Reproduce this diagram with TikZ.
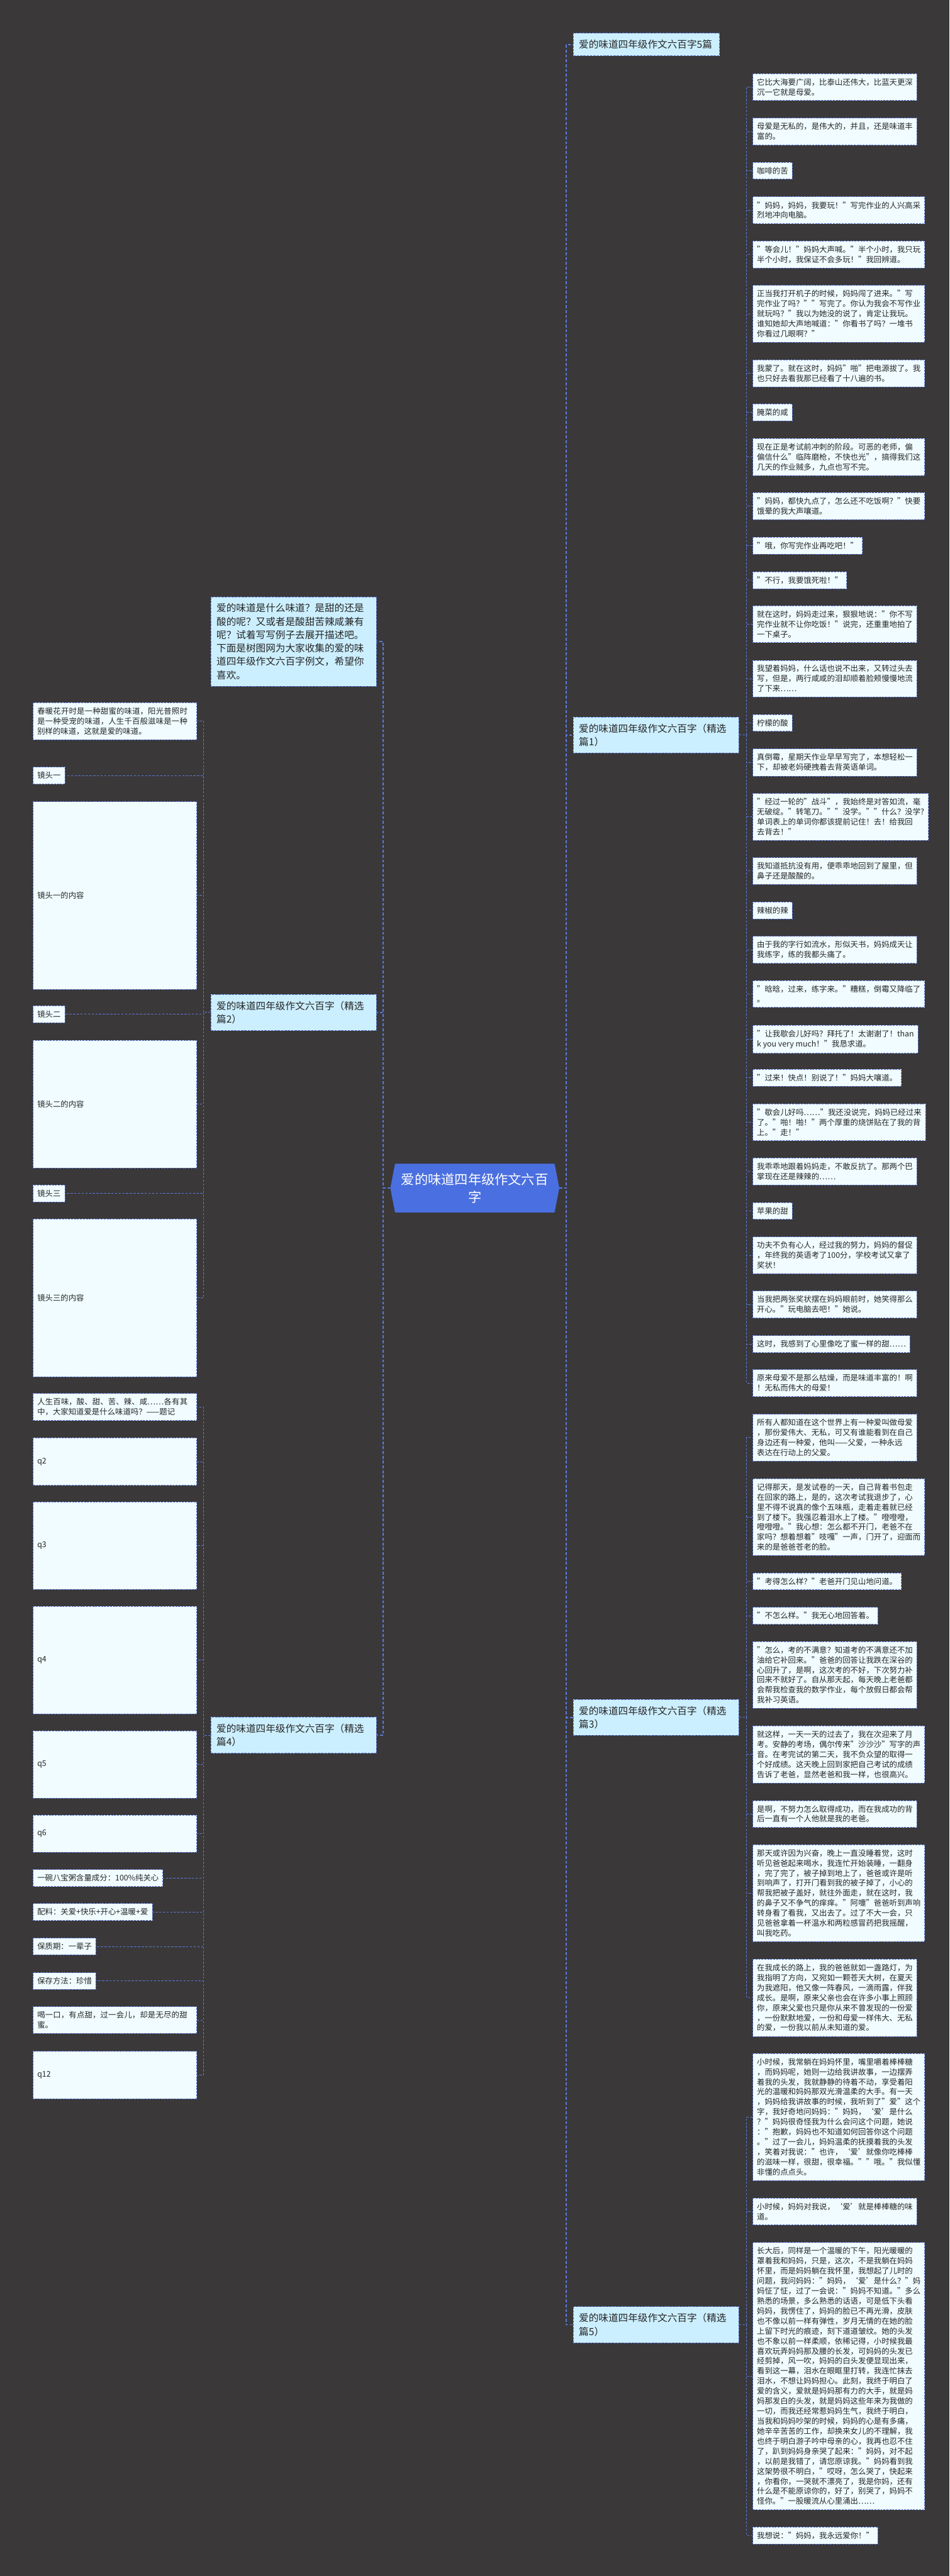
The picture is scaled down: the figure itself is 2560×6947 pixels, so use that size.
\documentclass[tikz,border=0pt]{standalone}
\usepackage{fontspec}
\setmainfont{Noto Sans CJK SC}
\usetikzlibrary{shapes.symbols}
\XeTeXlinebreaklocale "zh"
\XeTeXlinebreakskip = 0pt plus 1pt
\definecolor{bgdark}{HTML}{3A3839}
\definecolor{linkblue}{HTML}{5B79D9}
\definecolor{rootblue}{HTML}{4A6FE0}
\definecolor{branchfill}{HTML}{CCEFFF}
\definecolor{leaffill}{HTML}{F0FCFF}
\definecolor{inkdark}{HTML}{262626}
\tikzset{
  link/.style={draw=linkblue, line width=1.5pt, dash pattern=on 6pt off 4pt},
  trunk/.style={draw=linkblue, line width=3pt, dash pattern=on 8pt off 5pt},
  rootnode/.style={shape=signal, signal to=west and east, signal pointer angle=158,
    fill=rootblue, text=white, align=center, inner xsep=17pt, inner ysep=25pt,
    font=\fontsize{36}{48}\selectfont},
  branch/.style={draw=linkblue, line width=1.5pt, dash pattern=on 6pt off 3pt,
    fill=branchfill, text=inkdark, anchor=north west, align=left, text width=416pt,
    inner xsep=15pt, inner ysep=18pt, font=\fontsize{26.5}{36}\selectfont},
  leaf/.style={draw=linkblue, line width=1.2pt, dash pattern=on 5pt off 3pt,
    fill=leaffill, text=inkdark, anchor=north west, align=left,
    inner xsep=11pt, inner ysep=13pt, font=\fontsize{21}{27}\selectfont},
  leafwrap/.style={leaf, text width=419pt}
}
\begin{document}
\begin{tikzpicture}[x=1pt, y=-1pt]
  \fill[bgdark] (0,0) rectangle (2560,6947);
  \node (root) [rootnode] at (1280,3204) {爱的味道四年级作文六百\\字};

  % right side
  \node (b0) [branch, text width=364pt] at (1545,89) {爱的味道四年级作文六百字5篇};
  \node (b1) [branch] at (1545,1933) {爱的味道四年级作文六百字（精选\\篇1）};
  \node (b3) [branch] at (1545,4582) {爱的味道四年级作文六百字（精选\\篇3）};
  \node (b5) [branch] at (1545,6220) {爱的味道四年级作文六百字（精选\\篇5）};

  \node (l1) [leaf] at (2029,198) {它比大海要广阔，比泰山还伟大，比蓝天更深\\沉一它就是母爱。};
  \node (l2) [leaf] at (2029,318) {母爱是无私的，是伟大的，并且，还是味道丰\\富的。};
  \node (l3) [leaf] at (2029,437) {咖啡的苦};
  \node (l4) [leaf] at (2029,530) {"妈妈，妈妈，我要玩！"写完作业的人兴高采\\烈地冲向电脑。};
  \node (l5) [leaf] at (2029,649) {"等会儿！"妈妈大声喊。"半个小时，我只玩\\半个小时，我保证不会多玩！"我回辨道。};
  \node (l6) [leaf] at (2029,769) {正当我打开机子的时候，妈妈闯了进来。"写\\完作业了吗？""写完了。你认为我会不写作业\\就玩吗？"我以为她没的说了，肯定让我玩。\\谁知她却大声地喊道："你看书了吗？一堆书\\你看过几眼啊？"};
  \node (l7) [leaf] at (2029,970) {我蒙了。就在这时，妈妈"啪"把电源拔了。我\\也只好去看我那已经看了十八遍的书。};
  \node (l8) [leaf] at (2029,1089) {腌菜的咸};
  \node (l9) [leaf] at (2029,1182) {现在正是考试前冲刺的阶段。可恶的老师，偏\\偏信什么"临阵磨枪，不快也光"，搞得我们这\\几天的作业贼多，九点也写不完。};
  \node (l10) [leaf] at (2029,1328) {"妈妈，都快九点了，怎么还不吃饭啊？"快要\\饿晕的我大声嚷道。};
  \node (l11) [leaf] at (2029,1448) {"哦，你写完作业再吃吧！"};
  \node (l12) [leaf] at (2029,1541) {"不行，我要饿死啦！"};
  \node (l13) [leaf] at (2029,1633) {就在这时，妈妈走过来，狠狠地说："你不写\\完作业就不让你吃饭！"说完，还重重地拍了\\一下桌子。};
  \node (l14) [leaf] at (2029,1780) {我望着妈妈，什么话也说不出来，又转过头去\\写，但是，两行咸咸的泪却顺着脸颊慢慢地流\\了下来……};
  \node (l15) [leaf] at (2029,1926) {柠檬的酸};
  \node (l16) [leaf] at (2029,2019) {真倒霉，星期天作业早早写完了，本想轻松一\\下，却被老妈硬拽着去背英语单词。};
  \node (l17) [leaf] at (2029,2139) {"经过一轮的"战斗"，我始终是对答如流，毫\\无破绽。"转笔刀。""没学。""什么？没学?\\单词表上的单词你都该提前记住！去！给我回\\去背去！"};
  \node (l18) [leaf] at (2029,2312) {我知道抵抗没有用，便乖乖地回到了屋里，但\\鼻子还是酸酸的。};
  \node (l19) [leaf] at (2029,2432) {辣椒的辣};
  \node (l20) [leaf] at (2029,2524) {由于我的字行如流水，形似天书，妈妈成天让\\我练字，练的我都头痛了。};
  \node (l21) [leaf] at (2029,2644) {"晗晗，过来，练字来。"糟糕，倒霉又降临了\\。};
  \node (l22) [leaf] at (2029,2764) {"让我歇会儿好吗？拜托了！太谢谢了！than\\k you very much！"我恳求道。};
  \node (l23) [leaf] at (2029,2883) {"过来！快点！别说了！"妈妈大嚷道。};
  \node (l24) [leaf] at (2029,2976) {"歇会儿好吗……"我还没说完，妈妈已经过来\\了。"啪！啪！"两个厚重的烧饼贴在了我的背\\上。"走！"};
  \node (l25) [leaf] at (2029,3122) {我乖乖地跟着妈妈走，不敢反抗了。那两个巴\\掌现在还是辣辣的……};
  \node (l26) [leaf] at (2029,3242) {苹果的甜};
  \node (l27) [leaf] at (2029,3335) {功夫不负有心人，经过我的努力，妈妈的督促\\，年终我的英语考了100分，学校考试又拿了\\奖状！};
  \node (l28) [leaf] at (2029,3481) {当我把两张奖状摆在妈妈眼前时，她笑得那么\\开心。"玩电脑去吧！"她说。};
  \node (l29) [leaf] at (2029,3601) {这时，我感到了心里像吃了蜜一样的甜……};
  \node (l30) [leaf] at (2029,3693) {原来母爱不是那么枯燥，而是味道丰富的！啊\\！无私而伟大的母爱！};

  \node (m1) [leaf] at (2029,3813) {所有人都知道在这个世界上有一种爱叫做母爱\\，那份爱伟大、无私，可又有谁能看到在自己\\身边还有一种爱，他叫——父爱，一种永远\\表达在行动上的父爱。};
  \node (m2) [leaf] at (2029,3987) {记得那天，是发试卷的一天，自己背着书包走\\在回家的路上，是的，这次考试我退步了，心\\里不得不说真的像个五味瓶，走着走着就已经\\到了楼下。我强忍着泪水上了楼。"噔噔噔，\\噔噔噔。"我心想：怎么都不开门，老爸不在\\家吗？想着想着"吱嘎"一声，门开了，迎面而\\来的是爸爸苍老的脸。};
  \node (m3) [leaf] at (2029,4241) {"考得怎么样？"老爸开门见山地问道。};
  \node (m4) [leaf] at (2029,4334) {"不怎么样。"我无心地回答着。};
  \node (m5) [leaf] at (2029,4426) {"怎么，考的不满意？知道考的不满意还不加\\油给它补回来。"爸爸的回答让我跌在深谷的\\心回升了，是啊，这次考的不好，下次努力补\\回来不就好了。自从那天起，每天晚上老爸都\\会帮我检查我的数学作业，每个放假日都会帮\\我补习英语。};
  \node (m6) [leaf] at (2029,4654) {就这样，一天一天的过去了，我在次迎来了月\\考。安静的考场，偶尔传来"沙沙沙"写字的声\\音。在考完试的第二天，我不负众望的取得一\\个好成绩。这天晚上回到家把自己考试的成绩\\告诉了老爸，显然老爸和我一样，也很高兴。};
  \node (m7) [leaf] at (2029,4855) {是啊，不努力怎么取得成功，而在我成功的背\\后一直有一个人他就是我的老爸。};
  \node (m8) [leaf] at (2029,4974) {那天或许因为兴奋，晚上一直没睡着觉，这时\\听见爸爸起来喝水，我连忙开始装睡，一翻身\\，完了完了，被子掉到地上了，爸爸或许是听\\到响声了，打开门看到我的被子掉了，小心的\\帮我把被子盖好，就往外面走，就在这时，我\\的鼻子又不争气的痒痒。"阿嚏"爸爸听到声响\\转身看了看我，又出去了。过了不大一会，只\\见爸爸拿着一杯温水和两粒感冒药把我摇醒，\\叫我吃药。};
  \node (m9) [leaf] at (2029,5283) {在我成长的路上，我的爸爸就如一盏路灯，为\\我指明了方向，又宛如一颗苍天大树，在夏天\\为我遮阳，他又像一阵春风，一滴雨露，伴我\\成长。是啊，原来父亲也会在许多小事上照顾\\你，原来父爱也只是你从来不曾发现的一份爱\\，一份默默地爱，一份和母爱一样伟大、无私\\的爱，一份我以前从未知道的爱。};

  \node (n1) [leaf] at (2029,5537) {小时候，我常躺在妈妈怀里，嘴里嚼着棒棒糖\\，而妈妈呢，她则一边给我讲故事，一边摆弄\\着我的头发，我就静静的待着不动，享受着阳\\光的温暖和妈妈那双光滑温柔的大手。有一天\\，妈妈给我讲故事的时候，我听到了"爱"这个\\字，我好奇地问妈妈："妈妈，‘爱’是什么\\？"妈妈很奇怪我为什么会问这个问题，她说\\："抱歉，妈妈也不知道如何回答你这个问题\\。"过了一会儿，妈妈温柔的抚摸着我的头发\\，笑着对我说："也许，‘爱’就像你吃棒棒\\的滋味一样，很甜，很幸福。""哦。"我似懂\\非懂的点点头。};
  \node (n2) [leaf] at (2029,5927) {小时候，妈妈对我说，‘爱’就是棒棒糖的味\\道。};
  \node (n3) [leaf] at (2029,6047) {长大后，同样是一个温暖的下午，阳光暖暖的\\罩着我和妈妈，只是，这次，不是我躺在妈妈\\怀里，而是妈妈躺在我怀里，我想起了儿时的\\问题，我问妈妈："妈妈，‘爱’是什么？"妈\\妈怔了怔，过了一会说："妈妈不知道。"多么\\熟悉的场景，多么熟悉的话语，可是低下头看\\妈妈，我愣住了，妈妈的脸已不再光滑，皮肤\\也不像以前一样有弹性，岁月无情的在她的脸\\上留下时光的痕迹，刻下道道皱纹。她的头发\\也不象以前一样柔顺，依稀记得，小时候我最\\喜欢玩弄妈妈那及腰的长发，可妈妈的头发已\\经剪掉，风一吹，妈妈的白头发便显现出来，\\看到这一幕，泪水在眼眶里打转，我连忙抹去\\泪水，不想让妈妈担心。此刻，我终于明白了\\爱的含义，爱就是妈妈那有力的大手，就是妈\\妈那发白的头发，就是妈妈这些年来为我做的\\一切，而我还经常惹妈妈生气，我终于明白，\\当我和妈妈吵架的时候，妈妈的心是有多痛，\\她辛辛苦苦的工作，却换来女儿的不理解，我\\也终于明白游子吟中母亲的心，我再也忍不住\\了，趴到妈妈身亲哭了起来："妈妈，对不起\\，以前是我错了，请您原谅我。"妈妈看到我\\这架势很不明白，"哎呀，怎么哭了，快起来\\，你看你，一哭就不漂亮了，我是你妈，还有\\什么是不能原谅你的，好了，别哭了，妈妈不\\怪你。"一股暖流从心里涌出……};
  \node (n4) [leaf] at (2029,6814) {我想说："妈妈，我永远爱你！"};

  % left side
  \node (intro) [branch] at (568,1609) {爱的味道是什么味道？是甜的还是\\酸的呢？又或者是酸甜苦辣咸兼有\\呢？试着写写例子去展开描述吧。\\下面是树图网为大家收集的爱的味\\道四年级作文六百字例文，希望你\\喜欢。};
  \node (b2) [branch] at (568,2681) {爱的味道四年级作文六百字（精选\\篇2）};
  \node (b4) [branch] at (568,4630) {爱的味道四年级作文六百字（精选\\篇4）};

  \node (p1) [leafwrap] at (89,1894) {春暖花开时是一种甜蜜的味道，阳光普照时是一种受宠的味道，人生千百般滋味是一种别样的味道，这就是爱的味道。};
  \node (p2) [leaf] at (89,2068) {镜头一};
  \node (p3) [leafwrap, minimum height=506pt] at (89,2161) {镜头一的内容};
  \node (p4) [leaf] at (89,2712) {镜头二};
  \node (p5) [leafwrap, minimum height=344pt] at (89,2805) {镜头二的内容};
  \node (p6) [leaf] at (89,3195) {镜头三};
  \node (p7) [leafwrap, minimum height=425pt] at (89,3287) {镜头三的内容};

  \node (q1) [leafwrap] at (89,3757) {人生百味，酸、甜、苦、辣、咸……各有其中，大家知道爱是什么味道吗？——题记};
  \node (q2) [leafwrap, minimum height=128pt] at (89,3877) {q2};
  \node (q3) [leafwrap, minimum height=236pt] at (89,4050) {q3};
  \node (q4) [leafwrap, minimum height=290pt] at (89,4331) {q4};
  \node (q5) [leafwrap, minimum height=182pt] at (89,4667) {q5};
  \node (q6) [leafwrap, minimum height=101pt] at (89,4894) {q6};
  \node (q7) [leaf] at (89,5041) {一碗八宝粥含量成分：100\%纯关心};
  \node (q8) [leaf] at (89,5133) {配料：关爱+快乐+开心+温暖+爱};
  \node (q9) [leaf] at (89,5226) {保质期：一辈子};
  \node (q10) [leaf] at (89,5319) {保存方法：珍惜};
  \node (q11) [leafwrap] at (89,5411) {喝一口，有点甜，过一会儿，却是无尽的甜蜜。};
  \node (q12) [leafwrap, minimum height=128pt] at (89,5531) {q12};

  % connectors
  \foreach \n in {b0,b1,b3,b5}
    \draw[trunk] (root.east) -- ++(19,0) |- (\n.west);
  \foreach \n in {intro,b2,b4}
    \draw[trunk] (root.west) -- ++(-19,0) |- (\n.east);
  \foreach \i in {1,...,30}
    \draw[link] (b1.east) -- ++(20,0) |- (l\i.west);
  \foreach \i in {1,...,9}
    \draw[link] (b3.east) -- ++(20,0) |- (m\i.west);
  \foreach \i in {1,...,4}
    \draw[link] (b5.east) -- ++(20,0) |- (n\i.west);
  \foreach \i in {1,...,7}
    \draw[link] (b2.west) -- ++(-19,0) |- (p\i.east);
  \foreach \i in {1,...,12}
    \draw[link] (b4.west) -- ++(-19,0) |- (q\i.east);
\end{tikzpicture}
\end{document}
